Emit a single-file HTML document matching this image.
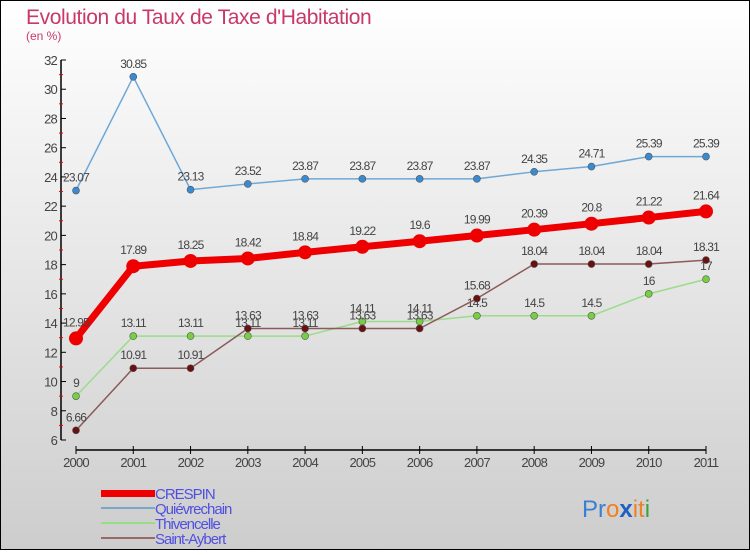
<!DOCTYPE html>
<html><head><meta charset="utf-8"><style>
body{margin:0;}
#c{width:750px;height:550px;position:relative;}
svg text{font-family:"Liberation Sans",sans-serif;}
</style></head><body>
<div id="c">
<svg id="s" width="750" height="550" xmlns="http://www.w3.org/2000/svg">
<defs><linearGradient id="bg" x1="0" y1="0" x2="0" y2="1"><stop offset="0" stop-color="#ffffff"/><stop offset="1" stop-color="#cdcdcd"/></linearGradient></defs>
<rect x="0.5" y="0.5" width="749" height="549" fill="url(#bg)" stroke="#000"/>
<text x="26" y="24" font-size="21" fill="#c8386a" letter-spacing="-0.4">Evolution du Taux de Taxe d'Habitation</text>
<text x="26" y="40" font-size="12" fill="#c8386a">(en %)</text>
<g id="axes"></g>
<g id="series"></g>
<g>
<rect x="101" y="490" width="54" height="7" fill="#e00"/>
<text x="155" y="499" font-size="15" fill="#5050e0" letter-spacing="-1">CRESPIN</text>
<rect x="101" y="507" width="54" height="2" fill="#7aa6c8"/>
<text x="155" y="514" font-size="15" fill="#5050e0" letter-spacing="-1">Quiévrechain</text>
<rect x="101" y="522" width="54" height="2" fill="#99dd88"/>
<text x="155" y="529" font-size="15" fill="#5050e0" letter-spacing="-1">Thivencelle</text>
<rect x="101" y="537" width="54" height="2" fill="#9a6a6a"/>
<text x="155" y="544" font-size="15" fill="#5050e0" letter-spacing="-1">Saint-Aybert</text>
</g>
<text x="582" y="517" font-size="24"><tspan fill="#3a7fd0">Pr</tspan><tspan fill="#f08020">o</tspan><tspan fill="#2060c0" font-weight="bold">x</tspan><tspan fill="#f08020">it</tspan><tspan fill="#40a040">i</tspan></text>
</svg>
</div>
<script>
const years=["2000","2001","2002","2003","2004","2005","2006","2007","2008","2009","2010","2011"];
const yTicks=[6,8,10,12,14,16,18,20,22,24,26,28,30,32];
const crespin=[12.95,17.89,18.25,18.42,18.84,19.22,19.6,19.99,20.39,20.8,21.22,21.64];
const quievrechain=[23.07,30.85,23.13,23.52,23.87,23.87,23.87,23.87,24.35,24.71,25.39,25.39];
const thivencelle=[9,13.11,13.11,13.11,13.11,14.11,14.11,14.5,14.5,14.5,16,17];
const saintAybert=[6.66,10.91,10.91,13.63,13.63,13.63,13.63,15.68,18.04,18.04,18.04,18.31];
const NS="http://www.w3.org/2000/svg";
const X=i=>76+i*(630/11);
const Y=v=>440-(v-6)*(380/26);
function mk(tag,attrs,parent){const e=document.createElementNS(NS,tag);for(const k in attrs)e.setAttribute(k,attrs[k]);parent.appendChild(e);return e;}
const ax=document.getElementById('axes');
const yl=mk('line',{x1:61,y1:Y(32),x2:61,y2:Y(6),stroke:'#000','stroke-width':1.5},ax);


yTicks.forEach((t,k)=>{
  mk('line',{x1:61,y1:Y(t),x2:66,y2:Y(t),stroke:'#000'},ax);
  if(k<yTicks.length-1) mk('line',{x1:59,y1:Y(t+1),x2:63,y2:Y(t+1),stroke:'#e00'},ax);
  const tx=mk('text',{x:57,y:Y(t)+5,'font-size':13,fill:'#444','text-anchor':'end','letter-spacing':'-0.8'},ax);
  tx.textContent=t;
  
  
});
const xl=mk('line',{x1:X(0),y1:450,x2:X(11),y2:450,stroke:'#000','stroke-width':1.5},ax);


years.forEach((y,i)=>{
  mk('line',{x1:X(i),y1:446,x2:X(i),y2:454,stroke:'#000'},ax);
  const tx=mk('text',{x:X(i),y:467,'font-size':13,fill:'#444','text-anchor':'middle','letter-spacing':'-0.8'},ax);
  tx.textContent=y;
  
  
});
const sg=document.getElementById('series');
function draw(vals,name,color,ptColor,w,r){
  const g=mk('g',{},sg);
  
  
  const pl=mk('polyline',{points:vals.map((v,i)=>X(i)+','+Y(v)).join(' '),fill:'none',stroke:color,'stroke-width':w,'stroke-linejoin':'round'},g);
  
  
  vals.forEach((v,i)=>{
    const c=mk('circle',{cx:X(i),cy:Y(v),r:r,fill:ptColor,stroke:name==='crespin'?'none':'#555','stroke-width':0.6},g);
    
    
    const t=mk('text',{x:X(i),y:Y(v)-(name==='crespin'?12:9),'font-size':12,fill:'#444','text-anchor':'middle','letter-spacing':'-0.8'},g);
    t.textContent=String(v);
    
    
  });
}
draw(quievrechain,'quievrechain','#6fa8d6','#3a8ad0',1.5,3.5);
draw(thivencelle,'thivencelle','#99dd88','#77d040',1.5,3.5);
draw(saintAybert,'saint-aybert','#8c5a5a','#6a1010',1.5,3.5);
draw(crespin,'crespin','#ee0000','#ee0000',7,7);
</script>
</body></html>
